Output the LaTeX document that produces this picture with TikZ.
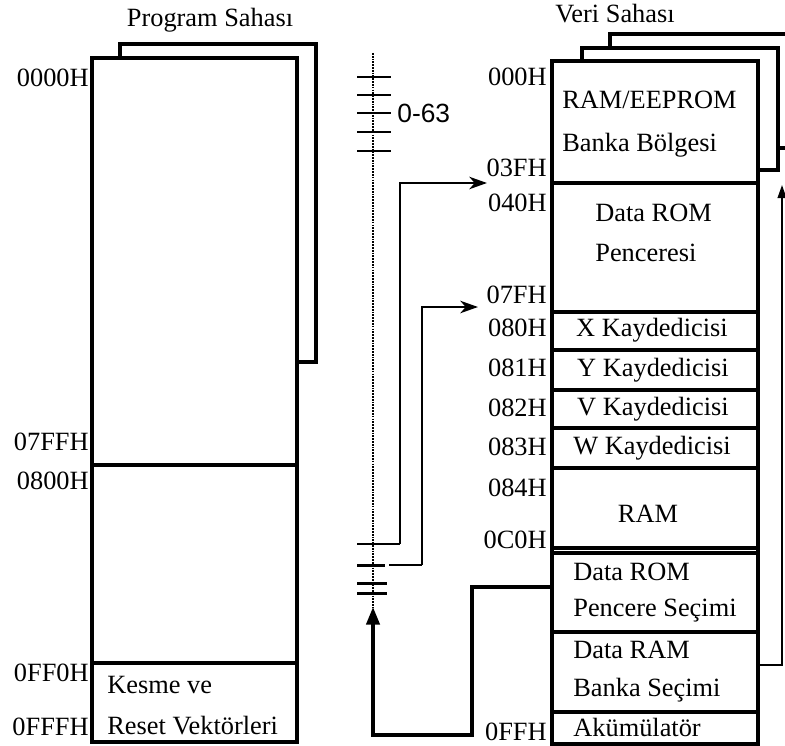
\documentclass[tikz,border=0pt]{standalone}
\usepackage{fontspec}
\setmainfont{Liberation Serif}
\setsansfont{Liberation Sans}
\usetikzlibrary{arrows.meta}

\begin{document}
\begin{tikzpicture}[x=0.2mm,y=-0.2mm,
  memline/.style={line width=2pt},
  leadline/.style={line width=1.6pt},
  addr/.style={anchor=east,font=\fontsize{15}{17}\selectfont},
  txt/.style={anchor=west,font=\fontsize{15}{17}\selectfont},
  ctr/.style={font=\fontsize{15}{17}\selectfont}]
	\tikzstyle{every node}+=[inner sep=0pt]
	\useasboundingbox (0,0) rectangle (785,746);
	% program area
	\draw [memline] (120,58) -- (120,44) -- (316,44) -- (316,362) -- (297,362);
	\draw [memline] (92,58) rectangle (297,742);
	\draw [memline] (92,465) -- (297,465);
	\draw [memline] (92,663) -- (297,663);
	\node [ctr] (progtitle) at (210,20) {Program Sahası};
	\node [addr] (p0000) at (89,78) {0000H};
	\node [addr] (p07FF) at (89,442) {07FFH};
	\node [addr] (p0800) at (89,481) {0800H};
	\node [addr] (p0FF0) at (89,673) {0FF0H};
	\node [addr] (p0FFF) at (89,727) {0FFFH};
	\node [txt] (kesme) at (107,685) {Kesme ve};
	\node [txt] (reset) at (107,726) {Reset Vektörleri};
	% data area
	\draw [memline] (610,48) -- (610,34) -- (785,34);
	\draw [memline] (778,148) -- (785,148);
	\draw [memline] (582,61) -- (582,48) -- (778,48) -- (778,170) -- (758,170);
	\draw [memline] (552,61) rectangle (758,744);
	\foreach \y in {183,312,350,390,428,468,548,553,632,712}
		\draw [memline] (552,\y) -- (758,\y);
	\node [ctr] (datatitle) at (615,14) {Veri Sahası};
	\node [addr] (d000) at (547,77) {000H};
	\node [addr] (d03F) at (547,168) {03FH};
	\node [addr] (d040) at (547,203) {040H};
	\node [addr] (d07F) at (547,295) {07FH};
	\node [addr] (d080) at (547,328) {080H};
	\node [addr] (d081) at (547,368) {081H};
	\node [addr] (d082) at (547,408) {082H};
	\node [addr] (d083) at (547,447) {083H};
	\node [addr] (d084) at (547,488) {084H};
	\node [addr] (d0C0) at (547,540) {0C0H};
	\node [addr] (d0FF) at (547,732) {0FFH};
	\node [txt] (bank1) at (562,100) {RAM/EEPROM};
	\node [txt] (bank2) at (562,145) {Banka Bölgesi};
	\node [txt] (win1) at (595,213) {Data ROM};
	\node [txt] (win2) at (595,253) {Penceresi};
	\node [ctr] (xreg) at (652,330) {X Kaydedicisi};
	\node [ctr] (yreg) at (653,370) {Y Kaydedicisi};
	\node [ctr] (vreg) at (653,409) {V Kaydedicisi};
	\node [ctr] (wreg) at (652,448) {W Kaydedicisi};
	\node [ctr] (ram) at (648,514) {RAM};
	\node [txt] (wsel1) at (573,572) {Data ROM};
	\node [txt] (wsel2) at (573,611) {Pencere Seçimi};
	\node [txt] (bsel1) at (573,650) {Data RAM};
	\node [txt] (bsel2) at (573,690) {Banka Seçimi};
	\node [txt] (acc) at (573,727) {Akümülatör};
	% bus
	\draw [line width=1.4pt, dash pattern=on 1pt off 0.6pt] (373,53) -- (373,608);
	\foreach \y in {77,95,113,132,151}
		\draw [line width=1.7pt] (357,\y) -- (391,\y);
	\node [anchor=west,font=\sffamily\fontsize{15}{17}\selectfont] (range) at (397,113) {0-63};
	\coordinate (tap1) at (400,544);
	\coordinate (tap2) at (422,565);
	\coordinate (in1) at (487,183);
	\coordinate (in2) at (478,307);
	\draw [line width=1.7pt] (357,544) -- (tap1);
	\draw [line width=1.7pt] (357,565) -- (385,565);
	\draw [line width=1.7pt] (357,583) -- (387,583);
	\draw [line width=1.7pt] (357,593) -- (387,593);
	\draw [leadline] (389,565) -- (tap2);
	\draw [leadline, -{Stealth[length=10pt,width=7pt,inset=3pt]}] (tap1) |- (in1);
	\draw [leadline, -{Stealth[length=10pt,width=7pt,inset=3pt]}] (tap2) |- (in2);
	% select lines
	\coordinate (wsel) at (552,587);
	\coordinate (busin) at (373,607);
	\draw [memline, -{Triangle[length=10pt,width=7.5pt]}] (wsel) -- (472,587) -- (472,735) -- (373,735) -- (busin);
	\coordinate (bsel) at (758,665);
	\coordinate (bankin) at (782,185);
	\draw [line width=1.1pt, -{Triangle[length=7.5pt,width=5pt]}] (bsel) -| (bankin);
\end{tikzpicture}
\end{document}
